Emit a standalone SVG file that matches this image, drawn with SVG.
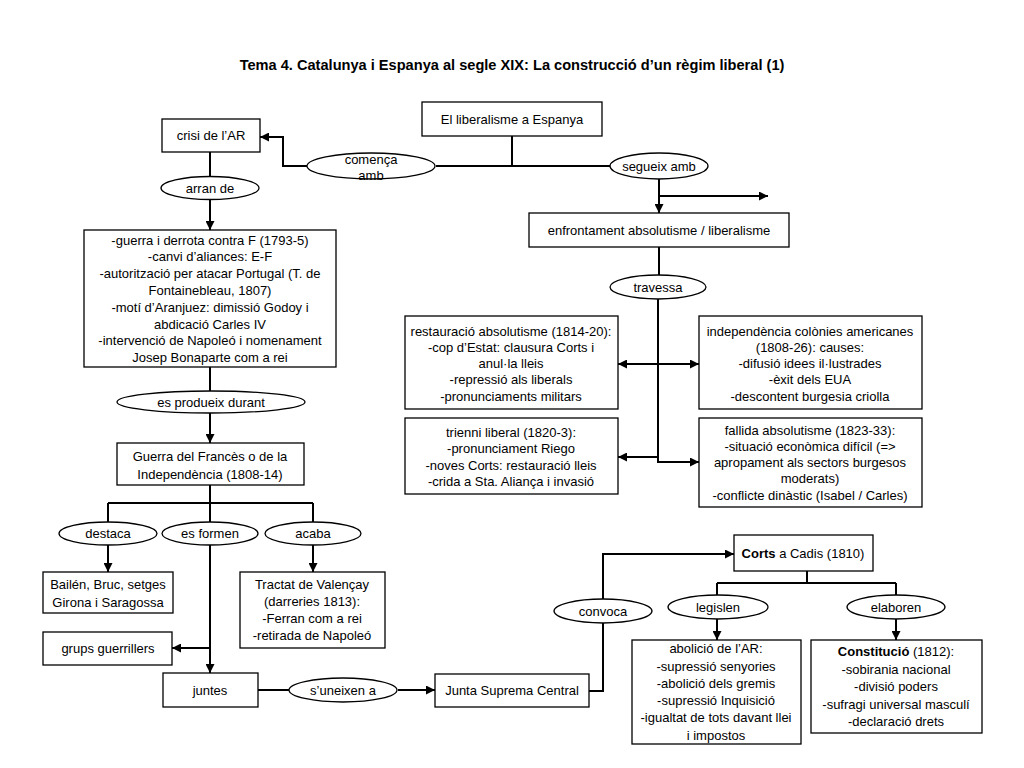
<svg xmlns="http://www.w3.org/2000/svg" width="1024" height="768" viewBox="0 0 1024 768">
<defs>
<marker id="arr" viewBox="0 0 10 10" refX="10" refY="5" markerWidth="9" markerHeight="9" markerUnits="userSpaceOnUse" orient="auto-start-reverse">
<path d="M0,0 L10,5 L0,10 z" fill="#000"/>
</marker>
<style>
.box{fill:#fff;stroke:#000;stroke-width:1.3}
.ell{fill:#fff;stroke:#000;stroke-width:1.3}
.c{fill:none;stroke:#000;stroke-width:2}
.a{marker-end:url(#arr)}
text{font-family:"Liberation Sans",Arial,sans-serif;font-size:13px;fill:#000;text-anchor:middle}
.title{font-size:14.6px;font-weight:bold}
.b{font-weight:bold}
</style>
</defs>
<rect width="1024" height="768" fill="#fff"/>
<text class="title" x="512" y="70">Tema 4. Catalunya i Espanya al segle XIX: La construcció d’un règim liberal (1)</text>

<g id="connectors">
<path class="c" d="M512,136 V166"/>
<path class="c" d="M436,166 H610"/>
<path class="c a" d="M307,166 H283 V137 H260"/>
<path class="c" d="M210,152 V177"/>
<path class="c a" d="M210,199 V230"/>
<path class="c" d="M210,367 V391"/>
<path class="c a" d="M210,413 V443"/>
<path class="c" d="M210,485 V522 M108,503 H313 M108,503 V522 M313,503 V522"/>
<path class="c a" d="M108,545 V572"/>
<path class="c a" d="M313,545 V572"/>
<path class="c a" d="M210,545 V673"/>
<path class="c a" d="M210,648 H172"/>
<path class="c" d="M258,690 H289"/>
<path class="c a" d="M398,690 H435"/>
<path class="c" d="M589,691 H603 V623"/>
<path class="c a" d="M603,599 V554 H734"/>
<path class="c" d="M807,571 V583 M717,583 H896 M717,583 V595 M896,583 V595"/>
<path class="c a" d="M717,619 V640"/>
<path class="c a" d="M896,619 V640"/>
<path class="c a" d="M659,179 V213"/>
<path class="c a" d="M659,196 H768"/>
<path class="c" d="M659,247 V275"/>
<path class="c a" d="M658,299 V462 H699"/>
<path class="c a" d="M618,364 H699" marker-start="url(#arr)"/>
<path class="c a" d="M658,457 H618"/>
</g>

<g id="liberalisme">
<rect class="box" x="422" y="102" width="180" height="34"/>
<text x="512" y="123.5">El liberalisme a Espanya</text>
</g>
<g id="comenca">
<ellipse class="ell" cx="371" cy="166" rx="64" ry="13"/>
<text x="371" y="164">comença</text>
<text x="371" y="180">amb</text>
</g>
<g id="segueix">
<ellipse class="ell" cx="659" cy="166" rx="49" ry="13"/>
<text x="659" y="170.5">segueix amb</text>
</g>
<g id="crisi">
<rect class="box" x="162" y="119" width="98" height="33"/>
<text x="211" y="140">crisi de l’AR</text>
</g>
<g id="arran">
<ellipse class="ell" cx="210" cy="188" rx="49" ry="11.5"/>
<text x="210" y="192.5">arran de</text>
</g>
<g id="causes">
<rect class="box" x="84" y="230" width="252" height="137"/>
<text x="210" y="244.5">-guerra i derrota contra F (1793-5)</text>
<text x="210" y="261.3">-canvi d’aliances: E-F</text>
<text x="210" y="278.1">-autorització per atacar Portugal (T. de</text>
<text x="210" y="294.9">Fontainebleau, 1807)</text>
<text x="210" y="311.7">-motí d’Aranjuez: dimissió Godoy i</text>
<text x="210" y="328.5">abdicació Carles IV</text>
<text x="210" y="345.3">-intervenció de Napoleó i nomenament</text>
<text x="210" y="362.1">Josep Bonaparte com a rei</text>
</g>
<g id="produeix">
<ellipse class="ell" cx="211" cy="402" rx="94" ry="11"/>
<text x="211" y="406.5">es produeix durant</text>
</g>
<g id="guerra">
<rect class="box" x="117" y="443" width="187" height="42"/>
<text x="210" y="461">Guerra del Francès o de la</text>
<text x="210" y="478.5">Independència (1808-14)</text>
</g>
<g id="destaca">
<ellipse class="ell" cx="108" cy="533.5" rx="49" ry="11.5"/>
<text x="108" y="538">destaca</text>
</g>
<g id="esformen">
<ellipse class="ell" cx="210" cy="533.5" rx="48" ry="11.5"/>
<text x="210" y="538">es formen</text>
</g>
<g id="acaba">
<ellipse class="ell" cx="313" cy="533.5" rx="48" ry="11.5"/>
<text x="313" y="538">acaba</text>
</g>
<g id="bailen">
<rect class="box" x="43" y="572" width="130" height="41"/>
<text x="108" y="589">Bailén, Bruc, setges</text>
<text x="108" y="606.5">Girona i Saragossa</text>
</g>
<g id="tractat">
<rect class="box" x="240" y="572" width="145" height="76"/>
<text x="312" y="589">Tractat de Valençay</text>
<text x="312" y="606">(darreries 1813):</text>
<text x="312" y="623">-Ferran com a rei</text>
<text x="312" y="640">-retirada de Napoleó</text>
</g>
<g id="grups">
<rect class="box" x="43" y="632" width="129" height="33"/>
<text x="108" y="653">grups guerrillers</text>
</g>
<g id="juntes">
<rect class="box" x="163" y="673" width="95" height="34"/>
<text x="210" y="694.5">juntes</text>
</g>
<g id="uneixen">
<ellipse class="ell" cx="343" cy="690" rx="54" ry="12"/>
<text x="343" y="694.5">s’uneixen a</text>
</g>
<g id="junta">
<rect class="box" x="435" y="674" width="154" height="33"/>
<text x="512" y="695">Junta Suprema Central</text>
</g>
<g id="convoca">
<ellipse class="ell" cx="603" cy="611" rx="49" ry="12"/>
<text x="603" y="615.5">convoca</text>
</g>
<g id="corts">
<rect class="box" x="734" y="535" width="139" height="36"/>
<text x="803" y="557.5"><tspan class="b">Corts</tspan> a Cadis (1810)</text>
</g>
<g id="legislen">
<ellipse class="ell" cx="718" cy="607" rx="50" ry="12"/>
<text x="718" y="611.5">legislen</text>
</g>
<g id="elaboren">
<ellipse class="ell" cx="896" cy="607" rx="49" ry="12"/>
<text x="896" y="611.5">elaboren</text>
</g>
<g id="abolicio">
<rect class="box" x="632" y="640" width="169" height="104"/>
<text x="716" y="653.2">abolició de l’AR:</text>
<text x="716" y="670.5">-supressió senyories</text>
<text x="716" y="687.8">-abolició dels gremis</text>
<text x="716" y="705.1">-supressió Inquisició</text>
<text x="716" y="722.4">-igualtat de tots davant llei</text>
<text x="716" y="739.7">i impostos</text>
</g>
<g id="constitucio">
<rect class="box" x="811" y="640" width="171" height="93"/>
<text x="896" y="656"><tspan class="b">Constitució</tspan> (1812):</text>
<text x="896" y="673.5">-sobirania nacional</text>
<text x="896" y="691">-divisió poders</text>
<text x="896" y="708.5">-sufragi universal masculí</text>
<text x="896" y="726">-declaració drets</text>
</g>
<g id="enfrontament">
<rect class="box" x="529" y="213" width="260" height="34"/>
<text x="659" y="234.5">enfrontament absolutisme / liberalisme</text>
</g>
<g id="travessa">
<ellipse class="ell" cx="658" cy="287" rx="48" ry="12"/>
<text x="658" y="291.5">travessa</text>
</g>
<g id="restauracio">
<rect class="box" x="405" y="316" width="213" height="93"/>
<text x="511" y="335.5">restauració absolutisme (1814-20):</text>
<text x="511" y="351.8">-cop d’Estat: clausura Corts i</text>
<text x="511" y="368.1">anul·la lleis</text>
<text x="511" y="384.4">-repressió als liberals</text>
<text x="511" y="400.7">-pronunciaments militars</text>
</g>
<g id="trienni">
<rect class="box" x="405" y="418" width="213" height="76"/>
<text x="511" y="437">trienni liberal (1820-3):</text>
<text x="511" y="453.3">-pronunciament Riego</text>
<text x="511" y="469.6">-noves Corts: restauració lleis</text>
<text x="511" y="485.9">-crida a Sta. Aliança i invasió</text>
</g>
<g id="independencia">
<rect class="box" x="699" y="316" width="223" height="93"/>
<text x="810" y="335.5">independència colònies americanes</text>
<text x="810" y="351.8">(1808-26): causes:</text>
<text x="810" y="368.1">-difusió idees il·lustrades</text>
<text x="810" y="384.4">-èxit dels EUA</text>
<text x="810" y="400.7">-descontent burgesia criolla</text>
</g>
<g id="fallida">
<rect class="box" x="699" y="418" width="223" height="89"/>
<text x="810" y="434.5">fallida absolutisme (1823-33):</text>
<text x="810" y="450.8">-situació econòmica difícil (=&gt;</text>
<text x="810" y="467.1">apropament als sectors burgesos</text>
<text x="810" y="483.4">moderats)</text>
<text x="810" y="499.7">-conflicte dinàstic (Isabel / Carles)</text>
</g>
</svg>
